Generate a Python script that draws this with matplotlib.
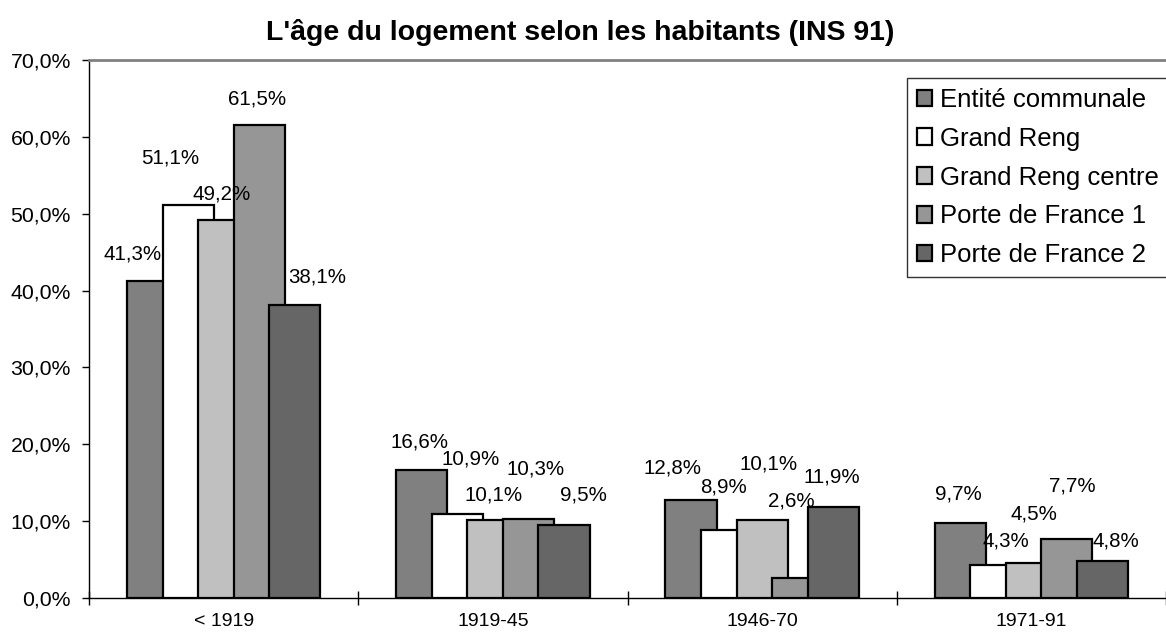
import numpy as np
import matplotlib
matplotlib.use("Agg")
import matplotlib.pyplot as plt
from matplotlib.ticker import FuncFormatter

plt.rcParams['font.family'] = ['Liberation Sans', 'DejaVu Sans']

# Données
categories = ['< 1919', '1919-45', '1946-70', '1971-91']
series = ['Entité communale', 'Grand Reng', 'Grand Reng centre',
          'Porte de France 1', 'Porte de France 2']
entite = [41.3, 16.6, 12.8, 9.7]
grand_reng = [51.1, 10.9, 8.9, 4.3]
grand_reng_centre = [49.2, 10.1, 10.1, 4.5]
porte_france_1 = [61.5, 10.3, 2.6, 7.7]
porte_france_2 = [38.1, 9.5, 11.9, 4.8]
valeurs = [entite, grand_reng, grand_reng_centre, porte_france_1, porte_france_2]

couleurs = ['#808080', '#ffffff', '#c0c0c0', '#969696', '#666666']

# décalage des étiquettes (pixels) comme placées à la main dans le tableur
dx_etiq = [[-20, -18, -2, -2, 22],
           [-2, 13, 1, 7, 19],
           [-19, -3, 6, -6, -1],
           [-2, 10, 3, 5, 13]]
dy_etiq = [[27, 47, 26, 26, 28],
           [28, 55, 25, 50, 30],
           [32, 43, 56, 77, 30],
           [29, 24, 49, 53, 20]]

fig = plt.figure(figsize=(11.66, 6.35), dpi=100)
ax = fig.add_axes([89 / 1166, 1 - 598 / 635, 1 - 89 / 1166, (598 - 60) / 635])

x = np.arange(len(categories))
largeur = 0.19
pas = 0.132

for i, (nom, vals) in enumerate(zip(series, valeurs)):
    pos = x + (i - 2) * pas
    ax.bar(pos, vals, width=largeur, color=couleurs[i], edgecolor='black',
           linewidth=1.6, label=nom, zorder=2 + i)
    for j, v in enumerate(vals):
        ax.annotate(f"{v:.1f}%".replace('.', ','), xy=(pos[j], v),
                    xytext=(dx_etiq[j][i], dy_etiq[j][i]),
                    textcoords='offset pixels', ha='center', va='center',
                    fontsize=14.8, zorder=20)

ax.set_xlim(-0.5, -0.5 + (1166 - 89) / 272)
ax.set_ylim(0, 70)
ax.set_yticks(np.arange(0, 71, 10))
ax.yaxis.set_major_formatter(FuncFormatter(lambda v, p: f"{v:.1f}%".replace('.', ',')))
ax.tick_params(axis='y', direction='out', length=5, width=1, labelsize=15.3, pad=8)

ax.set_xticks(x)
ax.set_xticklabels(categories)
ax.set_xticks([-0.5, 0.5, 1.5, 2.5, 3.5], minor=True)
ax.tick_params(axis='x', which='major', length=0, labelsize=14, pad=11)
ax.tick_params(axis='x', which='minor', direction='inout', length=10, width=1)

ax.spines['right'].set_visible(False)
ax.spines['top'].set_color('#808080')
ax.spines['top'].set_linewidth(2)
ax.spines['left'].set_linewidth(1)
ax.spines['bottom'].set_linewidth(1)

fig.text(580 / 1166, 1 - 33 / 635, "L'âge du logement selon les habitants (INS 91)",
         ha='center', va='center', fontsize=20.5, fontweight='bold')

leg = ax.legend(loc='upper left', bbox_to_anchor=((907 - 89) / (1166 - 89), 1 - 18 / 538),
                fontsize=18.5, frameon=True, fancybox=False, edgecolor='black',
                handlelength=0.6, handleheight=0.6, handletextpad=0.3,
                labelspacing=0.58, borderpad=0.38, borderaxespad=0)
leg.get_frame().set_linewidth(1)
leg.set_zorder(30)

fig.savefig('out.png', dpi=100)
